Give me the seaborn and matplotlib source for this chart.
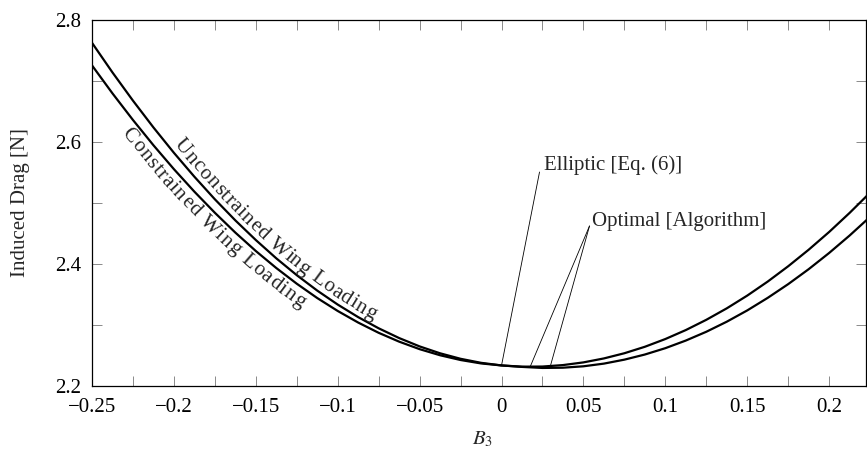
import numpy as np
import pandas as pd
import matplotlib
matplotlib.use("Agg")
import matplotlib.pyplot as plt
import matplotlib.transforms as mtransforms
from matplotlib.ticker import FixedLocator, FixedFormatter, MultipleLocator
import seaborn as sns

# ---------------- data ----------------
b3 = [-0.25, -0.2375, -0.225, -0.2125, -0.2, -0.1875, -0.175, -0.1625, -0.15, -0.1375,
      -0.125, -0.1125, -0.1, -0.0875, -0.075, -0.0625, -0.05, -0.0375, -0.025, -0.0125,
      0.0, 0.0125, 0.025, 0.0375, 0.05, 0.0625, 0.075, 0.0875, 0.1, 0.1125,
      0.125, 0.1375, 0.15, 0.1625, 0.175, 0.1875, 0.2, 0.2125, 0.225]
drag_unconstrained = [2.7626, 2.7140, 2.6678, 2.6239, 2.5823, 2.5431, 2.5061, 2.4715, 2.4393, 2.4093,
                      2.3817, 2.3564, 2.3335, 2.3129, 2.2946, 2.2786, 2.2649, 2.2536, 2.2446, 2.2380,
                      2.2337, 2.2317, 2.2319, 2.2343, 2.2387, 2.2452, 2.2537, 2.2643, 2.2770, 2.2917,
                      2.3085, 2.3273, 2.3482, 2.3712, 2.3963, 2.4234, 2.4525, 2.4838, 2.5170]
drag_constrained = [2.7256, 2.6797, 2.6361, 2.5947, 2.5555, 2.5186, 2.4840, 2.4515, 2.4213, 2.3934,
                    2.3677, 2.3442, 2.3230, 2.3040, 2.2872, 2.2727, 2.2604, 2.2504, 2.2426, 2.2370,
                    2.2337, 2.2313, 2.2296, 2.2300, 2.2323, 2.2367, 2.2432, 2.2516, 2.2620, 2.2745,
                    2.2889, 2.3054, 2.3239, 2.3445, 2.3670, 2.3915, 2.4181, 2.4467, 2.4773]

elliptic_b3 = [0.0]
elliptic_drag = [2.2337]
optimal_b3 = [0.0175, 0.0295]
optimal_drag = [2.2316, 2.2296]

xtick_values = [-0.25, -0.2, -0.15, -0.1, -0.05, 0.0, 0.05, 0.1, 0.15, 0.2]
xtick_labels = ["\u22120.25", "\u22120.2", "\u22120.15", "\u22120.1", "\u22120.05",
                "0", "0.05", "0.1", "0.15", "0.2"]
ytick_values = [2.2, 2.4, 2.6, 2.8]
ytick_labels = ["2.2", "2.4", "2.6", "2.8"]

label_upper = "Unconstrained Wing Loading"
label_lower = "Constrained Wing Loading"
label_elliptic = "Elliptic [Eq. (6)]"
label_optimal = "Optimal [Algorithm]"

# ---------------- style ----------------
sns.set_theme(style="ticks")
plt.rcParams["font.family"] = ["Liberation Serif", "DejaVu Serif"]
plt.rcParams["mathtext.fontset"] = "stix"
plt.rcParams["axes.unicode_minus"] = True
FS = 15

fig = plt.figure(figsize=(8.67, 4.51), dpi=100)
ax = fig.add_axes([92 / 867, 65 / 451, 774 / 867, 366 / 451])

df = pd.DataFrame({
    "B3": b3 + b3,
    "drag": drag_unconstrained + drag_constrained,
    "case": ["Unconstrained"] * len(b3) + ["Constrained"] * len(b3),
})
sns.lineplot(data=df, x="B3", y="drag", hue="case",
             palette={"Unconstrained": "black", "Constrained": "black"},
             linewidth=1.6, legend=False, ax=ax, sort=True)
for ln in ax.get_lines():
    ln.set_solid_joinstyle("round")

ax.set_xlim(-0.25, 0.2225)
ax.set_ylim(2.2, 2.8)

ax.xaxis.set_major_locator(FixedLocator(xtick_values))
ax.xaxis.set_major_formatter(FixedFormatter(xtick_labels))
ax.xaxis.set_minor_locator(MultipleLocator(0.025))
ax.yaxis.set_major_locator(FixedLocator(ytick_values))
ax.yaxis.set_major_formatter(FixedFormatter(ytick_labels))
ax.yaxis.set_minor_locator(MultipleLocator(0.1))

for which in ("major", "minor"):
    ax.tick_params(axis="both", which=which, direction="in", length=7, width=0.6,
                   color="#777777", top=True, right=True, labelsize=FS,
                   labelcolor="black")
ax.tick_params(axis="x", which="major", pad=9)
ax.tick_params(axis="y", which="major", pad=8)
for sp in ax.spines.values():
    sp.set_color("black")
    sp.set_linewidth(0.9)

ax.set_xlabel(r"$B_3$", fontsize=FS)
ax.set_ylabel("Induced Drag [N]", fontsize=FS)
ax.xaxis.set_label_coords(0.505, -0.145)
ax.xaxis.label.set_va("center")
ax.yaxis.set_label_coords(-0.093, 0.5)
ax.yaxis.label.set_va("center")

# ---------------- annotations ----------------
ax.text(0.0262, 2.5541, label_elliptic, fontsize=FS, ha="left", va="baseline")
ax.text(0.0555, 2.4623, label_optimal, fontsize=FS, ha="left", va="baseline")
lp = dict(arrowstyle="-", lw=0.6, color="black", shrinkA=0, shrinkB=0)
ax.annotate("", xy=(elliptic_b3[0], elliptic_drag[0]), xytext=(0.0232, 2.5508),
            arrowprops=lp)
for xb, yd in zip(optimal_b3, optimal_drag):
    ax.annotate("", xy=(xb, yd), xytext=(0.0537, 2.4623), arrowprops=lp)


# ---------------- text following the curves ----------------
def text_on_curve(ax, xs, ys, text, x_start, offset, fontsize, spacing=1.0):
    fig = ax.figure
    fig.canvas.draw()
    r = fig.canvas.get_renderer()
    ident = mtransforms.IdentityTransform()
    pts = ax.transData.transform(np.column_stack([xs, ys]))
    seg = np.hypot(np.diff(pts[:, 0]), np.diff(pts[:, 1]))
    s = np.concatenate([[0.0], np.cumsum(seg)])
    p0 = ax.transData.transform((x_start, np.interp(x_start, xs, ys)))
    s0 = np.interp(p0[0], pts[:, 0], s)

    def width(t):
        tt = ax.text(0, 0, t + "|", fontsize=fontsize, transform=ident)
        w = tt.get_window_extent(r).width
        tt.remove()
        return w

    wbar = width("")
    widths = [(width(text[:i]) - wbar) * spacing if i > 0 else 0.0
              for i in range(len(text) + 1)]

    def at(sv):
        return np.array([np.interp(sv, s, pts[:, 0]), np.interp(sv, s, pts[:, 1])])

    for i, ch in enumerate(text):
        if ch == " ":
            continue
        sc = s0 + 0.5 * (widths[i] + widths[i + 1])
        h = 14
        d = at(sc + h) - at(sc - h)
        ang = np.degrees(np.arctan2(d[1], d[0]))
        n = np.array([-d[1], d[0]]) / np.hypot(d[0], d[1])
        pos = at(sc) + n * offset
        ax.text(pos[0], pos[1], ch, transform=ident, rotation=ang, ha="center",
                va="baseline", rotation_mode="anchor", fontsize=fontsize,
                clip_on=False)


text_on_curve(ax, b3, drag_unconstrained, label_upper, -0.203, 5.0, FS, 1.09)
text_on_curve(ax, b3, drag_constrained, label_lower, -0.224, -17.5, FS, 1.09)

fig.savefig("out.png", dpi=100)
